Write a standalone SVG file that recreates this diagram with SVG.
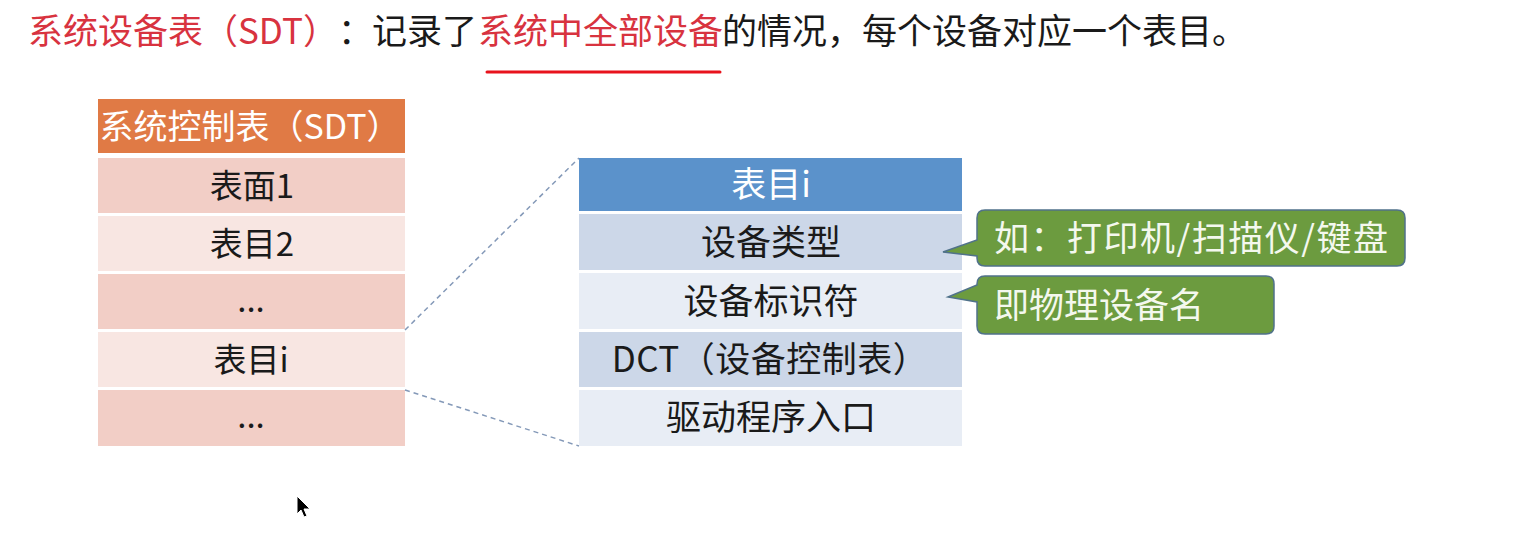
<svg xmlns="http://www.w3.org/2000/svg" width="1513" height="558" viewBox="0 0 1513 558">
  <style>
    text { font-family: "Noto Sans CJK SC", "Noto Sans", sans-serif; }
    .title { font-size: 35px; }
    .red { fill: #D8333F; }
    .blk { fill: #1a1a1a; }
    .cell { font-size: 33px; fill: #1a1a1a; text-anchor: middle; }
    .cell2 { font-size: 35px; fill: #1a1a1a; text-anchor: middle; }
    .head { fill: #ffffff; text-anchor: middle; }
    .note { font-size: 35px; fill: #F4F8EE; }
    .sdt-dark { fill: #F2CEC6; }
    .sdt-light { fill: #F8E6E2; }
    .ent-dark { fill: #CCD7E8; }
    .ent-light { fill: #E8EDF5; }
    .callout { fill: #6C9B3F; stroke: #50728A; stroke-width: 1.5; }
    .zoom { fill: none; stroke: #8499B8; stroke-width: 1.5; stroke-dasharray: 5 4; }
  </style>

  <rect width="1513" height="558" fill="#ffffff"/>

  <!-- heading line -->
  <g id="heading">
    <text class="title" y="44"><tspan class="red" x="28">系统设备表（SDT）</tspan><tspan class="blk" x="338">：</tspan><tspan class="blk" x="372">记录了</tspan><tspan class="red" x="478">系统中全部设备</tspan><tspan class="blk" x="722">的情况，每个设备对应一个表目。</tspan></text>
    <line x1="487" y1="72" x2="720" y2="72" stroke="#E8121C" stroke-width="3" stroke-linecap="round"/>
  </g>

  <!-- system device table -->
  <g id="sdt">
    <rect x="98" y="99" width="307" height="54" fill="#E07A45"/>
    <text class="head" x="250" y="139" font-size="34">系统控制表（SDT）</text>
    <rect class="sdt-dark" x="98" y="158" width="307" height="55"/>
    <text class="cell" x="252" y="198">表面1</text>
    <rect class="sdt-light" x="98" y="216" width="307" height="55"/>
    <text class="cell" x="252" y="256">表目2</text>
    <rect class="sdt-dark" x="98" y="274" width="307" height="55"/>
    <text class="cell" x="251" y="312">...</text>
    <rect class="sdt-light" x="98" y="332" width="307" height="55"/>
    <text class="cell" x="251" y="372">表目i</text>
    <rect class="sdt-dark" x="98" y="390" width="307" height="56"/>
    <text class="cell" x="251" y="428">...</text>
  </g>

  <!-- dashed zoom lines from entry i to its detail -->
  <g id="connectors">
    <line class="zoom" x1="405" y1="330" x2="579" y2="158"/>
    <line class="zoom" x1="405" y1="390" x2="579" y2="446"/>
  </g>

  <!-- detail of one entry -->
  <g id="entry">
    <rect x="579" y="158" width="383" height="53" fill="#5B92CB"/>
    <text class="head" x="771" y="197" font-size="35">表目i</text>
    <rect class="ent-dark" x="579" y="214" width="383" height="56"/>
    <text class="cell2" x="771" y="255">设备类型</text>
    <rect class="ent-light" x="579" y="273" width="383" height="56"/>
    <text class="cell2" x="771" y="314">设备标识符</text>
    <rect class="ent-dark" x="579" y="332" width="383" height="55"/>
    <text class="cell2" x="770" y="372" letter-spacing="0.5">DCT（设备控制表）</text>
    <rect class="ent-light" x="579" y="390" width="383" height="56"/>
    <text class="cell2" x="771" y="430">驱动程序入口</text>
  </g>

  <!-- notes -->
  <g id="note-type">
    <path class="callout" d="M985 210 H1397 Q1405 210 1405 218 V258 Q1405 266 1397 266 H985 Q977 266 977 258 V256 L943 252 L977 240 V218 Q977 210 985 210 Z"/>
    <text class="note" x="994" y="251" letter-spacing="1.5">如：打印机/扫描仪/键盘</text>
  </g>
  <g id="note-id">
    <path class="callout" d="M985 276 H1266 Q1274 276 1274 284 V326 Q1274 334 1266 334 H985 Q977 334 977 326 V302 L948 297 L977 285 V284 Q977 276 985 276 Z"/>
    <text class="note" x="994" y="318">即物理设备名</text>
  </g>

  <!-- pointer -->
  <path d="M297 496 L297 514 L301 510 L304 517 L307 516 L304 509 L310 509 Z" fill="#000000" stroke="#ffffff" stroke-width="1"/>
</svg>
